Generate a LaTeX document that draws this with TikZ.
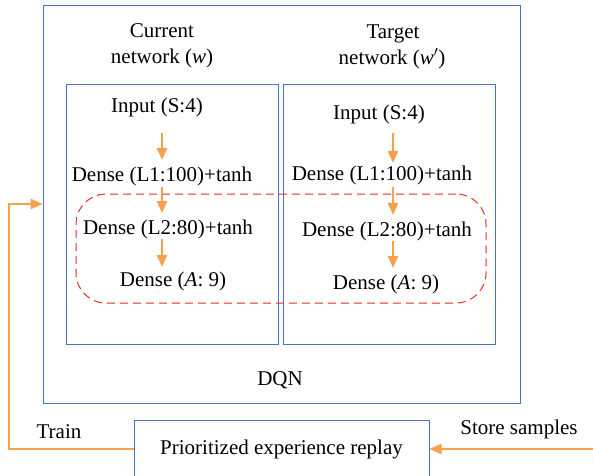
\documentclass[tikz,border=0pt]{standalone}
\usepackage{fontspec}
\setmainfont{Liberation Serif}
\usetikzlibrary{arrows.meta}
\definecolor{boxblue}{RGB}{68,114,196}
\definecolor{arrorange}{RGB}{248,160,75}
\definecolor{dashred}{RGB}{230,45,35}
\begin{document}
\begin{tikzpicture}[x=1pt,y=-1pt,
  font=\fontsize{21}{26}\selectfont,
  bluebox/.style={draw=boxblue,line width=1pt,inner sep=0pt},
  lbl/.style={inner sep=0pt,text height=14pt,text depth=4pt,anchor=base},
  arr/.style={draw=arrorange,line width=1.2pt,-{Triangle[length=12pt,width=10.5pt]}},
  grpbox/.style={draw=dashred,line width=1pt,dash pattern=on 8pt off 5pt,rounded corners=30pt,inner sep=0pt}]
\useasboundingbox (0,0) rectangle (593,475);
% boxes
\node[bluebox,minimum width=477pt,minimum height=398pt] (dqn) at (281.5,204) {};
\node[bluebox,minimum width=212pt,minimum height=260pt] (cur) at (172,214) {};
\node[bluebox,minimum width=212pt,minimum height=260pt] (tgt) at (389,214) {};
\node[grpbox,minimum width=410pt,minimum height=109pt] (grp) at (281,248.5) {};
\node[bluebox,minimum width=295pt,minimum height=58pt] (replay) at (281.5,449) {Prioritized experience replay};
% titles
\node[lbl] (curA) at (162,37.5) {Current};
\node[lbl] (curB) at (162,63.5) {network (\textit{w})};
\node[lbl] (tgtA) at (393,38.5) {Target};
\node[lbl] (tgtB) at (392,64.5) {network (\textit{w}$'$)};
% current network layers
\node[lbl] (c1) at (157,112.5) {Input (S:4)};
\node[lbl] (c2) at (162,181.5) {Dense (L1:100)+tanh};
\node[lbl] (c3) at (168,234.5) {Dense (L2:80)+tanh};
\node[lbl] (c4) at (173,286.5) {Dense (\textit{A}: 9)};
% target network layers
\node[lbl] (t1) at (379,119.5) {Input (S:4)};
\node[lbl] (t2) at (382,180.5) {Dense (L1:100)+tanh};
\node[lbl] (t3) at (387,236.5) {Dense (L2:80)+tanh};
\node[lbl] (t4) at (386,289.5) {Dense (\textit{A}: 9)};
% other labels
\node[lbl] (dqnlbl) at (280,385.5) {DQN};
\node[lbl] (train) at (59,438.5) {Train};
\node[lbl] (store) at (519,434.5) {Store samples};
% column coordinates
\coordinate (colL) at (162,0);
\coordinate (colR) at (393,0);
\coordinate (trainc) at (9,449);
\coordinate (storec) at (593,449);
% arrows current
\draw[arr] ([yshift=-16.5pt]c1.south -| colL) -- ([yshift=7.5pt]c2.north -| colL);
\draw[arr] ([yshift=-1.5pt]c2.south -| colL) -- ([yshift=7.5pt]c3.north -| colL);
\draw[arr] ([yshift=-0.5pt]c3.south -| colL) -- ([yshift=5.5pt]c4.north -| colL);
% arrows target
\draw[arr] ([yshift=-9.5pt]t1.south -| colR) -- ([yshift=3.5pt]t2.north -| colR);
\draw[arr] ([yshift=-2.5pt]t2.south -| colR) -- ([yshift=7.5pt]t3.north -| colR);
\draw[arr] (t3.south -| colR) -- ([yshift=7.5pt]t4.north -| colR);
% train and store
\draw[arr] (replay.west) -- (trainc) -- (trainc |- dqn.west) -- (dqn.west);
\draw[arr] (storec) -- (replay.east);
\end{tikzpicture}
\end{document}
